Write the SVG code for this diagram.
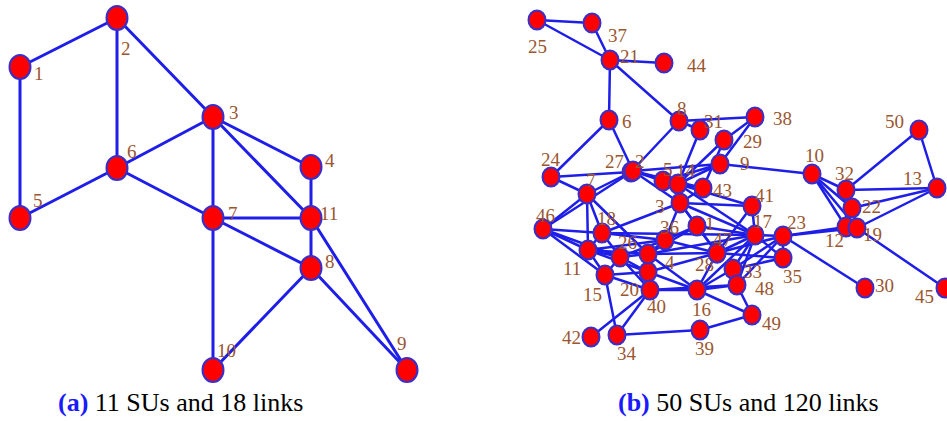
<svg xmlns="http://www.w3.org/2000/svg" width="947" height="421" viewBox="0 0 947 421">
<style>
.e{stroke:#1e1ee8;fill:none;stroke-linecap:round}
.ea{stroke-width:3}
.eb{stroke-width:2.5}
.n{fill:#ff0000;stroke:#3a2fc8;stroke-width:2}
.t{font-size:19px;fill:#9a5630}
.cap{font-size:26px}
</style>
<rect width="947" height="421" fill="#ffffff"/>
<g id="connectors-a" class="e ea">
<line x1="20" y1="67" x2="117" y2="18"/>
<line x1="20" y1="67" x2="20" y2="218"/>
<line x1="117" y1="18" x2="117" y2="168"/>
<line x1="117" y1="18" x2="213" y2="117"/>
<line x1="213" y1="117" x2="117" y2="168"/>
<line x1="213" y1="117" x2="213" y2="218"/>
<line x1="213" y1="117" x2="311" y2="167"/>
<line x1="213" y1="117" x2="311" y2="218"/>
<line x1="20" y1="218" x2="117" y2="168"/>
<line x1="117" y1="168" x2="213" y2="218"/>
<line x1="213" y1="218" x2="311" y2="218"/>
<line x1="213" y1="218" x2="311" y2="268"/>
<line x1="213" y1="218" x2="213" y2="370"/>
<line x1="311" y1="167" x2="311" y2="218"/>
<line x1="311" y1="218" x2="311" y2="268"/>
<line x1="311" y1="218" x2="407" y2="370"/>
<line x1="311" y1="268" x2="407" y2="370"/>
<line x1="311" y1="268" x2="213" y2="370"/>
</g>
<g id="nodes-a" font-family="Liberation Serif, Times New Roman, serif">
<g id="a1"><ellipse class="n" cx="20" cy="67" rx="10.5" ry="12"/><text class="t" x="34" y="80">1</text></g>
<g id="a2"><ellipse class="n" cx="117" cy="18" rx="10.5" ry="12"/><text class="t" x="121" y="55">2</text></g>
<g id="a3"><ellipse class="n" cx="213" cy="117" rx="10.5" ry="12"/><text class="t" x="229" y="119">3</text></g>
<g id="a4"><ellipse class="n" cx="311" cy="167" rx="10.5" ry="12"/><text class="t" x="325" y="167">4</text></g>
<g id="a5"><ellipse class="n" cx="20" cy="218" rx="10.5" ry="12"/><text class="t" x="33" y="207">5</text></g>
<g id="a6"><ellipse class="n" cx="117" cy="168" rx="10.5" ry="12"/><text class="t" x="127" y="158">6</text></g>
<g id="a7"><ellipse class="n" cx="213" cy="218" rx="10.5" ry="12"/><text class="t" x="228" y="220">7</text></g>
<g id="a8"><ellipse class="n" cx="311" cy="268" rx="10.5" ry="12"/><text class="t" x="325" y="268">8</text></g>
<g id="a9"><ellipse class="n" cx="407" cy="370" rx="10.5" ry="12"/><text class="t" x="397" y="350">9</text></g>
<g id="a10"><ellipse class="n" cx="213" cy="370" rx="10.5" ry="12"/><text class="t" x="217" y="357">10</text></g>
<g id="a11"><ellipse class="n" cx="311" cy="218" rx="10.5" ry="12"/><text class="t" x="320" y="220">11</text></g>
</g>
<g id="connectors-b" class="e eb">
<line x1="537" y1="20" x2="592" y2="23"/>
<line x1="537" y1="20" x2="610" y2="60"/>
<line x1="592" y1="23" x2="610" y2="60"/>
<line x1="610" y1="60" x2="664" y2="63"/>
<line x1="610" y1="60" x2="609" y2="120"/>
<line x1="610" y1="60" x2="679" y2="121"/>
<line x1="609" y1="120" x2="551" y2="177"/>
<line x1="609" y1="120" x2="633" y2="171"/>
<line x1="679" y1="121" x2="700" y2="130"/>
<line x1="679" y1="121" x2="755" y2="117"/>
<line x1="679" y1="121" x2="631" y2="172"/>
<line x1="700" y1="130" x2="678" y2="184"/>
<line x1="755" y1="117" x2="724" y2="140"/>
<line x1="755" y1="117" x2="720" y2="164"/>
<line x1="724" y1="140" x2="678" y2="184"/>
<line x1="724" y1="140" x2="703" y2="188"/>
<line x1="720" y1="164" x2="633" y2="171"/>
<line x1="720" y1="164" x2="812" y2="174"/>
<line x1="720" y1="164" x2="678" y2="184"/>
<line x1="720" y1="164" x2="663" y2="181"/>
<line x1="812" y1="174" x2="846" y2="190"/>
<line x1="812" y1="174" x2="852" y2="208"/>
<line x1="812" y1="174" x2="846" y2="227"/>
<line x1="812" y1="174" x2="857" y2="228"/>
<line x1="846" y1="190" x2="937" y2="188"/>
<line x1="846" y1="190" x2="919" y2="130"/>
<line x1="846" y1="190" x2="846" y2="227"/>
<line x1="937" y1="188" x2="919" y2="130"/>
<line x1="937" y1="188" x2="852" y2="208"/>
<line x1="937" y1="188" x2="857" y2="228"/>
<line x1="852" y1="208" x2="846" y2="227"/>
<line x1="852" y1="208" x2="857" y2="228"/>
<line x1="783" y1="236" x2="846" y2="227"/>
<line x1="783" y1="236" x2="857" y2="228"/>
<line x1="783" y1="236" x2="865" y2="288"/>
<line x1="857" y1="228" x2="945" y2="288"/>
<line x1="783" y1="236" x2="755" y2="235"/>
<line x1="783" y1="236" x2="783" y2="258"/>
<line x1="783" y1="236" x2="717" y2="253"/>
<line x1="783" y1="236" x2="733" y2="269"/>
<line x1="755" y1="235" x2="752" y2="206"/>
<line x1="755" y1="235" x2="680" y2="203"/>
<line x1="755" y1="235" x2="697" y2="226"/>
<line x1="755" y1="235" x2="678" y2="184"/>
<line x1="755" y1="235" x2="717" y2="253"/>
<line x1="755" y1="235" x2="733" y2="269"/>
<line x1="755" y1="235" x2="737" y2="285"/>
<line x1="755" y1="235" x2="783" y2="258"/>
<line x1="755" y1="235" x2="697" y2="290"/>
<line x1="783" y1="258" x2="733" y2="269"/>
<line x1="783" y1="258" x2="717" y2="253"/>
<line x1="551" y1="177" x2="631" y2="172"/>
<line x1="551" y1="177" x2="587" y2="194"/>
<line x1="587" y1="194" x2="631" y2="172"/>
<line x1="587" y1="194" x2="543" y2="229"/>
<line x1="587" y1="194" x2="602" y2="233"/>
<line x1="587" y1="194" x2="588" y2="250"/>
<line x1="587" y1="194" x2="648" y2="254"/>
<line x1="543" y1="229" x2="633" y2="171"/>
<line x1="543" y1="229" x2="588" y2="250"/>
<line x1="543" y1="229" x2="602" y2="233"/>
<line x1="543" y1="229" x2="620" y2="257"/>
<line x1="543" y1="229" x2="605" y2="275"/>
<line x1="633" y1="171" x2="663" y2="181"/>
<line x1="633" y1="171" x2="678" y2="184"/>
<line x1="633" y1="171" x2="680" y2="203"/>
<line x1="633" y1="171" x2="703" y2="188"/>
<line x1="680" y1="203" x2="602" y2="233"/>
<line x1="680" y1="203" x2="665" y2="240"/>
<line x1="680" y1="203" x2="678" y2="184"/>
<line x1="680" y1="203" x2="703" y2="188"/>
<line x1="680" y1="203" x2="752" y2="206"/>
<line x1="680" y1="203" x2="717" y2="253"/>
<line x1="680" y1="203" x2="697" y2="226"/>
<line x1="678" y1="184" x2="703" y2="188"/>
<line x1="678" y1="184" x2="752" y2="206"/>
<line x1="697" y1="226" x2="665" y2="240"/>
<line x1="697" y1="226" x2="717" y2="253"/>
<line x1="697" y1="226" x2="648" y2="254"/>
<line x1="665" y1="240" x2="620" y2="257"/>
<line x1="665" y1="240" x2="602" y2="233"/>
<line x1="665" y1="240" x2="648" y2="254"/>
<line x1="665" y1="240" x2="717" y2="253"/>
<line x1="665" y1="240" x2="588" y2="250"/>
<line x1="602" y1="233" x2="588" y2="250"/>
<line x1="602" y1="233" x2="620" y2="257"/>
<line x1="602" y1="233" x2="755" y2="235"/>
<line x1="588" y1="250" x2="620" y2="257"/>
<line x1="588" y1="250" x2="605" y2="275"/>
<line x1="588" y1="250" x2="648" y2="272"/>
<line x1="588" y1="250" x2="648" y2="254"/>
<line x1="620" y1="257" x2="648" y2="254"/>
<line x1="620" y1="257" x2="648" y2="272"/>
<line x1="620" y1="257" x2="605" y2="275"/>
<line x1="620" y1="257" x2="650" y2="290"/>
<line x1="648" y1="254" x2="717" y2="253"/>
<line x1="648" y1="254" x2="697" y2="290"/>
<line x1="648" y1="254" x2="650" y2="290"/>
<line x1="648" y1="254" x2="755" y2="235"/>
<line x1="648" y1="272" x2="650" y2="290"/>
<line x1="648" y1="272" x2="605" y2="275"/>
<line x1="648" y1="272" x2="717" y2="253"/>
<line x1="648" y1="272" x2="697" y2="290"/>
<line x1="605" y1="275" x2="650" y2="290"/>
<line x1="605" y1="275" x2="617" y2="335"/>
<line x1="650" y1="290" x2="591" y2="337"/>
<line x1="650" y1="290" x2="617" y2="335"/>
<line x1="650" y1="290" x2="697" y2="290"/>
<line x1="650" y1="290" x2="737" y2="285"/>
<line x1="697" y1="290" x2="737" y2="285"/>
<line x1="697" y1="290" x2="733" y2="269"/>
<line x1="697" y1="290" x2="717" y2="253"/>
<line x1="697" y1="290" x2="752" y2="315"/>
<line x1="737" y1="285" x2="752" y2="315"/>
<line x1="737" y1="285" x2="733" y2="269"/>
<line x1="737" y1="285" x2="783" y2="236"/>
<line x1="617" y1="335" x2="700" y2="330"/>
<line x1="700" y1="330" x2="752" y2="315"/>
<line x1="717" y1="253" x2="752" y2="206"/>
<line x1="846" y1="227" x2="857" y2="228"/>
</g>
<g id="nodes-b" font-family="Liberation Serif, Times New Roman, serif">
<g id="b1"><ellipse class="n" cx="697" cy="226" rx="8.5" ry="9.5"/><text class="t" x="705" y="230">1</text></g>
<g id="b27"><ellipse class="n" cx="631" cy="172" rx="8.5" ry="9.5"/><text class="t" x="605" y="168">27</text></g>
<g id="b2"><ellipse class="n" cx="633" cy="171" rx="8.5" ry="9.5"/><text class="t" x="635" y="168">2</text></g>
<g id="b3"><ellipse class="n" cx="680" cy="203" rx="8.5" ry="9.5"/><text class="t" x="655" y="213">3</text></g>
<g id="b5"><ellipse class="n" cx="663" cy="181" rx="8.5" ry="9.5"/><text class="t" x="663" y="176">5</text></g>
<g id="b6"><ellipse class="n" cx="609" cy="120" rx="8.5" ry="9.5"/><text class="t" x="622" y="128">6</text></g>
<g id="b7"><ellipse class="n" cx="587" cy="194" rx="8.5" ry="9.5"/><text class="t" x="586" y="187">7</text></g>
<g id="b8"><ellipse class="n" cx="679" cy="121" rx="8.5" ry="9.5"/><text class="t" x="677" y="115">8</text></g>
<g id="b9"><ellipse class="n" cx="720" cy="164" rx="8.5" ry="9.5"/><text class="t" x="740" y="170">9</text></g>
<g id="b10"><ellipse class="n" cx="812" cy="174" rx="8.5" ry="9.5"/><text class="t" x="805" y="162">10</text></g>
<g id="b11"><ellipse class="n" cx="588" cy="250" rx="8.5" ry="9.5"/><text class="t" x="563" y="275">11</text></g>
<g id="b12"><ellipse class="n" cx="846" cy="227" rx="8.5" ry="9.5"/><text class="t" x="825" y="247">12</text></g>
<g id="b13"><ellipse class="n" cx="937" cy="188" rx="8.5" ry="9.5"/><text class="t" x="903" y="185">13</text></g>
<g id="b14"><ellipse class="n" cx="678" cy="184" rx="8.5" ry="9.5"/><text class="t" x="676" y="177">14</text></g>
<g id="b15"><ellipse class="n" cx="605" cy="275" rx="8.5" ry="9.5"/><text class="t" x="583" y="301">15</text></g>
<g id="b16"><ellipse class="n" cx="697" cy="290" rx="8.5" ry="9.5"/><text class="t" x="692" y="316">16</text></g>
<g id="b17"><ellipse class="n" cx="755" cy="235" rx="8.5" ry="9.5"/><text class="t" x="753" y="228">17</text></g>
<g id="b18"><ellipse class="n" cx="602" cy="233" rx="8.5" ry="9.5"/><text class="t" x="597" y="225">18</text></g>
<g id="b19"><ellipse class="n" cx="857" cy="228" rx="8.5" ry="9.5"/><text class="t" x="863" y="241">19</text></g>
<g id="b20"><ellipse class="n" cx="648" cy="272" rx="8.5" ry="9.5"/><text class="t" x="620" y="296">20</text></g>
<g id="b21"><ellipse class="n" cx="610" cy="60" rx="8.5" ry="9.5"/><text class="t" x="620" y="63">21</text></g>
<g id="b22"><ellipse class="n" cx="852" cy="208" rx="8.5" ry="9.5"/><text class="t" x="862" y="213">22</text></g>
<g id="b23"><ellipse class="n" cx="783" cy="236" rx="8.5" ry="9.5"/><text class="t" x="787" y="229">23</text></g>
<g id="b24"><ellipse class="n" cx="551" cy="177" rx="8.5" ry="9.5"/><text class="t" x="541" y="166">24</text></g>
<g id="b25"><ellipse class="n" cx="537" cy="20" rx="8.5" ry="9.5"/><text class="t" x="528" y="53">25</text></g>
<g id="b26"><ellipse class="n" cx="620" cy="257" rx="8.5" ry="9.5"/><text class="t" x="618" y="249">26</text></g>
<g id="b28"><ellipse class="n" cx="717" cy="253" rx="8.5" ry="9.5"/><text class="t" x="695" y="271">28</text></g>
<g id="b29"><ellipse class="n" cx="724" cy="140" rx="8.5" ry="9.5"/><text class="t" x="743" y="148">29</text></g>
<g id="b30"><ellipse class="n" cx="865" cy="288" rx="8.5" ry="9.5"/><text class="t" x="875" y="292">30</text></g>
<g id="b31"><ellipse class="n" cx="700" cy="130" rx="8.5" ry="9.5"/><text class="t" x="704" y="128">31</text></g>
<g id="b32"><ellipse class="n" cx="846" cy="190" rx="8.5" ry="9.5"/><text class="t" x="835" y="180">32</text></g>
<g id="b33"><ellipse class="n" cx="733" cy="269" rx="8.5" ry="9.5"/><text class="t" x="743" y="278">33</text></g>
<g id="b34"><ellipse class="n" cx="617" cy="335" rx="8.5" ry="9.5"/><text class="t" x="617" y="360">34</text></g>
<g id="b35"><ellipse class="n" cx="783" cy="258" rx="8.5" ry="9.5"/><text class="t" x="783" y="283">35</text></g>
<g id="b36"><ellipse class="n" cx="665" cy="240" rx="8.5" ry="9.5"/><text class="t" x="660" y="234">36</text></g>
<g id="b37"><ellipse class="n" cx="592" cy="23" rx="8.5" ry="9.5"/><text class="t" x="608" y="42">37</text></g>
<g id="b38"><ellipse class="n" cx="755" cy="117" rx="8.5" ry="9.5"/><text class="t" x="773" y="125">38</text></g>
<g id="b39"><ellipse class="n" cx="700" cy="330" rx="8.5" ry="9.5"/><text class="t" x="695" y="355">39</text></g>
<g id="b40"><ellipse class="n" cx="650" cy="290" rx="8.5" ry="9.5"/><text class="t" x="647" y="313">40</text></g>
<g id="b41"><ellipse class="n" cx="752" cy="206" rx="8.5" ry="9.5"/><text class="t" x="755" y="202">41</text></g>
<g id="b42"><ellipse class="n" cx="591" cy="337" rx="8.5" ry="9.5"/><text class="t" x="562" y="344">42</text></g>
<g id="b43"><ellipse class="n" cx="703" cy="188" rx="8.5" ry="9.5"/><text class="t" x="713" y="197">43</text></g>
<g id="b44"><ellipse class="n" cx="664" cy="63" rx="8.5" ry="9.5"/><text class="t" x="687" y="72">44</text></g>
<g id="b45"><ellipse class="n" cx="945" cy="288" rx="8.5" ry="9.5"/><text class="t" x="915" y="303">45</text></g>
<g id="b46"><ellipse class="n" cx="543" cy="229" rx="8.5" ry="9.5"/><text class="t" x="536" y="222">46</text></g>
<g id="b47"><ellipse class="n" cx="717" cy="253" rx="8.5" ry="9.5"/><text class="t" x="713" y="246">47</text></g>
<g id="b4"><ellipse class="n" cx="648" cy="254" rx="8.5" ry="9.5"/><text class="t" x="665" y="269">4</text></g>
<g id="b48"><ellipse class="n" cx="737" cy="285" rx="8.5" ry="9.5"/><text class="t" x="755" y="295">48</text></g>
<g id="b49"><ellipse class="n" cx="752" cy="315" rx="8.5" ry="9.5"/><text class="t" x="762" y="330">49</text></g>
<g id="b50"><ellipse class="n" cx="919" cy="130" rx="8.5" ry="9.5"/><text class="t" x="885" y="128">50</text></g>
</g>
<g id="captions" font-family="Liberation Serif, Times New Roman, serif">
<text class="cap" x="58" y="411" fill="#000000"><tspan font-weight="bold" fill="#1a1aff">(a)</tspan> 11 SUs and 18 links</text>
<text class="cap" x="618" y="411" fill="#000000"><tspan font-weight="bold" fill="#1a1aff">(b)</tspan> 50 SUs and 120 links</text>
</g>
</svg>
